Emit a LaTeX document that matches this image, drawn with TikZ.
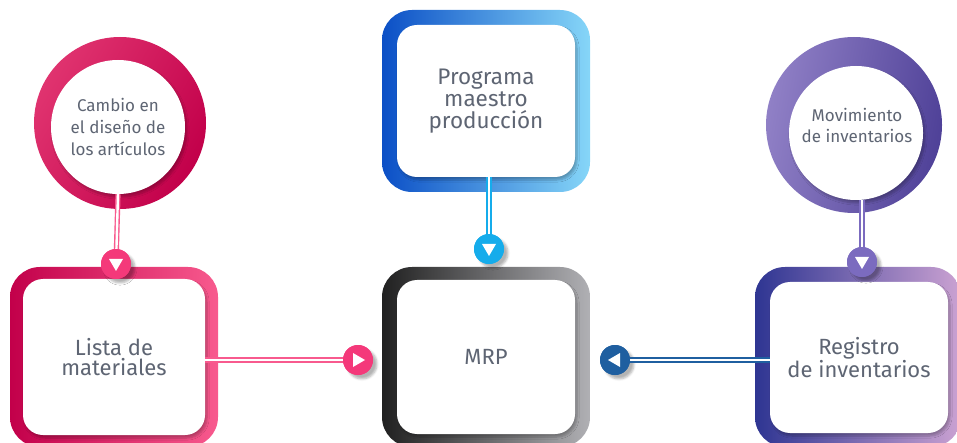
\documentclass[tikz,border=0pt]{standalone}
\usepackage{fontspec}
\setmainfont{Fira Sans}
\usetikzlibrary{shadows.blur,calc}
\definecolor{txtc}{HTML}{5E6573}
\definecolor{pinkA}{HTML}{C2004A}
\definecolor{pinkB}{HTML}{E0336F}
\definecolor{pinkC}{HTML}{F85A8E}
\definecolor{pinkM}{HTML}{F4397A}
\definecolor{blueA}{HTML}{0B4FC6}
\definecolor{blueB}{HTML}{0AA2EA}
\definecolor{blueC}{HTML}{86D6F8}
\definecolor{blueM}{HTML}{15ACEB}
\definecolor{grayA}{HTML}{202020}
\definecolor{grayC}{HTML}{B0B0B4}
\definecolor{purA}{HTML}{2E3592}
\definecolor{purB}{HTML}{7A6CBE}
\definecolor{purC}{HTML}{CBA2D2}
\definecolor{purM}{HTML}{7B6BBF}
\definecolor{purR1}{HTML}{9080C6}
\definecolor{purR2}{HTML}{4F4198}
\definecolor{navyM}{HTML}{1F5FA0}
\begin{document}
\begin{tikzpicture}[x=1pt,y=-1pt,
  ring/.style={circle, inner sep=0pt, minimum size=#1},
  disc/.style={circle, fill=white, inner sep=0pt, minimum size=#1, text=txtc, align=center,
    font=\fontsize{17}{22}\selectfont, blur shadow={shadow xshift=2pt, shadow yshift=-3pt, shadow blur steps=6, shadow opacity=25}},
  label text/.style={text=txtc, align=center, font=\fontsize{17}{21}\selectfont},
  frame/.style={rectangle, rounded corners=30pt, inner sep=0pt, minimum width=208pt, minimum height=180pt},
  panel/.style={rectangle, rounded corners=20pt, fill=white, inner sep=0pt, minimum width=178pt, minimum height=154pt,
    text=txtc, align=center, font=\fontsize{22}{20.5}\selectfont,
    blur shadow={shadow xshift=2pt, shadow yshift=-3pt, shadow blur steps=6, shadow opacity=25}},
  conn/.style={line width=1.4pt, draw=#1, double=white, double distance=2.4pt},
  marker/.style={circle, fill=#1, inner sep=0pt, minimum size=30pt,
    blur shadow={shadow xshift=4pt, shadow yshift=-4pt, shadow blur steps=5, shadow opacity=30}}
]
\useasboundingbox (0,0) rectangle (957,443);

% left circle
\node[ring=172pt, shading=axis, left color=pinkB, right color=pinkA, shading angle=60] (c1o) at (120,123) {};
\node[disc=134pt] (c1) at (118,127) {Cambio en\\el diseño de\\los artículos};

% right circle
\node[ring=176pt, shading=axis, left color=purR1, right color=purR2, shading angle=80] (c2o) at (854,125) {};
\node[disc=134pt] (c2) at (856,133) {};
\node[label text] (c2t) at (857,125) {Movimiento\\de inventarios};

% top box
\node[frame, minimum height=182pt, shading=axis, left color=blueA, middle color=blueB, right color=blueC] (b1o) at (486,101) {};
\node[panel, minimum height=152pt, font=\fontsize{22.5}{22}\selectfont] (b1) at (486,101) {Programa\\maestro\\producción};

% left box
\node[frame, shading=axis, left color=pinkA, right color=pinkC] (b2o) at (114,357) {};
\node[panel, minimum width=182pt, minimum height=156pt] (b2) at (114,357) {Lista de\\materiales};

% MRP box
\node[frame, shading=axis, left color=grayA, right color=grayC] (b3o) at (486,357) {};
\node[panel] (b3) at (486,357) {MRP};

% right box
\node[frame, minimum width=206pt, shading=axis, left color=purA, middle color=purB, right color=purC] (b4o) at (858,357) {};
\node[panel, minimum height=151pt] (b4) at (859,357.5) {Registro\\de inventarios};

% connectors
\node[marker=pinkM] (m1) at (116,264) {};
\draw[conn=pinkC] (c1.south) -- (m1.center);

\node[marker=blueM] (m2) at (489,249) {};
\draw[conn=blueM] (b1.south -| m2) -- (m2.center);

\node[marker=purM] (m3) at (862,262) {};
\draw[conn=purM] (c2.south -| m3) -- (m3.center);

\node[marker=pinkM] (m4) at (358,360) {};
\draw[conn=pinkC] (b2.east |- m4) -- (m4.center);

\node[marker=navyM] (m5) at (615,360) {};
\draw[conn=navyM] (b4.west |- m5) -- (m5.center);

% markers on top
\foreach \m/\c in {m1/pinkM, m2/blueM, m3/purM, m4/pinkM, m5/navyM}{
  \fill[\c] (\m) circle (15pt);
}
\fill[white] (m1.center) ++(-7,-5) -- ++(14,0) -- ++(-7,12) -- cycle;
\fill[white] (m2.center) ++(-7,-5) -- ++(14,0) -- ++(-7,12) -- cycle;
\fill[white] (m3.center) ++(-7,-5) -- ++(14,0) -- ++(-7,12) -- cycle;
\fill[white] (m4.center) ++(-5,-7) -- ++(0,14) -- ++(12,-7) -- cycle;
\fill[white] (m5.center) ++(5,-7) -- ++(0,14) -- ++(-12,-7) -- cycle;
\end{tikzpicture}
\end{document}
